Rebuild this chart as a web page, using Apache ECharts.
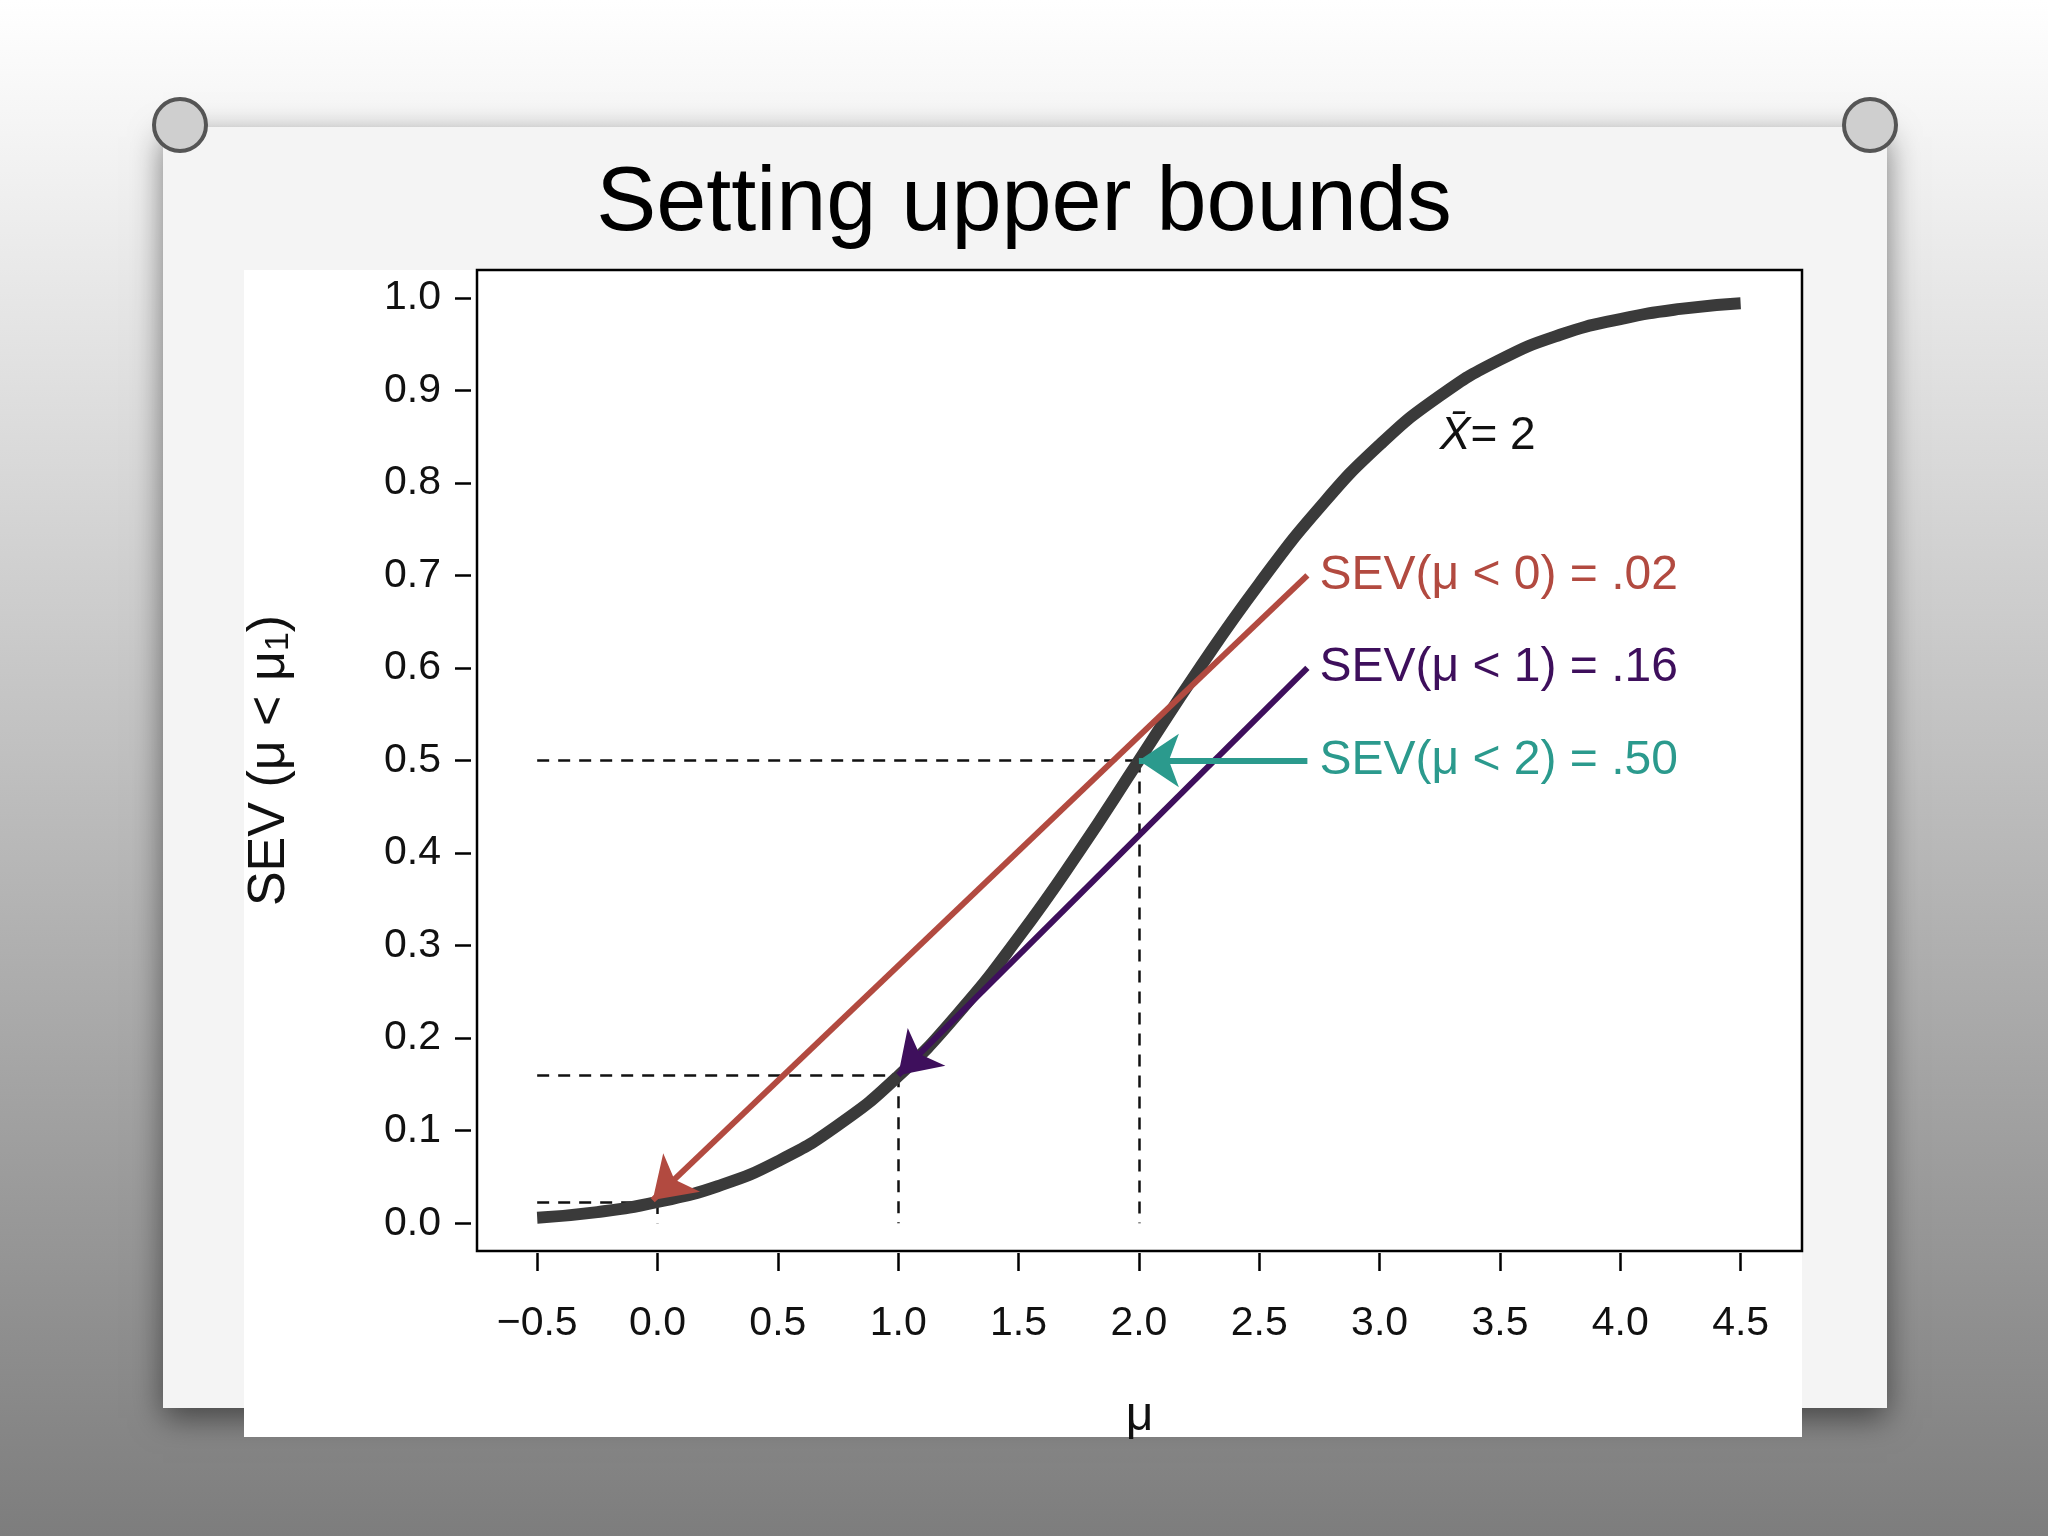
<!DOCTYPE html>
<html><head><meta charset="utf-8">
<script src="https://cdn.jsdelivr.net/npm/echarts@6/dist/echarts.min.js"></script>
<style>html,body{margin:0;padding:0}#c{width:2048px;height:1536px}</style>
</head><body><div id="c"></div>
<script>
// Curve values
const muValues = [-0.5,-0.25,0,0.25,0.5,0.75,1,1.25,1.5,1.75,2,2.25,2.5,2.75,3,3.25,3.5,3.75,4,4.25,4.5];
const sevValues = [0.006,0.012,0.023,0.040,0.067,0.106,0.159,0.227,0.309,0.401,0.5,0.599,0.691,0.773,0.841,0.894,0.933,0.960,0.977,0.988,0.994];
const xTicks = [-0.5,0,0.5,1,1.5,2,2.5,3,3.5,4,4.5];
const yTicks = [0,0.1,0.2,0.3,0.4,0.5,0.6,0.7,0.8,0.9,1.0];
const arrows = [
  {from:[2.7,0.70], to:[-0.02,0.025], color:'#b24a40', label:'SEV(μ < 0) = .02'},
  {from:[2.7,0.60], to:[1.0,0.16], color:'#3e0f5c', label:'SEV(μ < 1) = .16'},
  {from:[2.7,0.50], to:[2.0,0.50], color:'#2b9a8d', label:'SEV(μ < 2) = .50'}
];
const dashed = [
  [[-0.5,0.5],[2,0.5]],[[2,0.5],[2,0]],
  [[-0.5,0.16],[1,0.16]],[[1,0.16],[1,0]],
  [[-0.5,0.023],[0,0.023]],[[0,0.023],[0,0]]
];
const chart = echarts.init(document.getElementById('c'));
const font = 'Liberation Sans, Arial, sans-serif';
chart.setOption({
  animation:false,
  graphic:[
    {type:'rect',z:-10,shape:{x:0,y:0,width:2048,height:1536},style:{fill:new echarts.graphic.LinearGradient(0,0,0,1,[{offset:0,color:'#ffffff'},{offset:0.3,color:'#d9d9d9'},{offset:1,color:'#7d7d7d'}])}},
    {type:'rect',z:-9,shape:{x:163,y:127,width:1724,height:1281},style:{fill:'#f4f4f4',shadowBlur:30,shadowColor:'rgba(0,0,0,0.5)',shadowOffsetY:10}},
    {type:'rect',z:-8,shape:{x:244,y:270,width:1558,height:1167},style:{fill:'#ffffff'}},
    {type:'circle',z:-7,shape:{cx:180,cy:125,r:26},style:{fill:'#cfcfcf',stroke:'#555',lineWidth:4}},
    {type:'circle',z:-7,shape:{cx:1870,cy:125,r:26},style:{fill:'#cfcfcf',stroke:'#555',lineWidth:4}},
    {type:'text',left:'center',top:160,style:{text:'Setting upper bounds',font:'90px '+font,fill:'#000',x:1023,textAlign:'center'}}
  ],
  grid:{left:477,right:246,top:270,bottom:285,show:true,borderColor:'#000',borderWidth:2.5,backgroundColor:'transparent'},
  xAxis:{type:'value',min:-0.75,max:4.755,offset:2,
    axisLine:{show:false,onZero:false},splitLine:{show:false},
    axisTick:{show:true,length:18,lineStyle:{color:'#000',width:2.5},customValues:xTicks},
    axisLabel:{customValues:xTicks,fontSize:41,fontFamily:font,color:'#111',margin:50,formatter:v=>(v<0?'−':'')+Math.abs(v).toFixed(1)},
    name:'μ',nameLocation:'middle',nameGap:140,nameTextStyle:{fontSize:48,fontFamily:font,color:'#111'}},
  yAxis:{type:'value',min:-0.03,max:1.03,offset:6,
    axisLine:{show:false,onZero:false},splitLine:{show:false},
    axisTick:{show:true,length:16,lineStyle:{color:'#000',width:2.5},customValues:yTicks},
    axisLabel:{customValues:yTicks,fontSize:41,fontFamily:font,color:'#111',margin:30,formatter:v=>v.toFixed(1)},
    name:'{a|SEV (μ < μ}{s|1}{a|)}',nameLocation:'middle',nameGap:175,
    nameTextStyle:{rich:{a:{fontSize:52,fontFamily:font,color:'#111'},s:{fontSize:34,fontFamily:font,color:'#111',verticalAlign:'bottom',padding:[16,0,0,0]}}}},
  series:[
    {type:'lines',coordinateSystem:'cartesian2d',z:2,
     data:dashed.map(c=>({coords:c})),lineStyle:{color:'#111',width:2.5,type:[12,9],opacity:1}},
    {type:'line',data:muValues.map((m,i)=>[m,sevValues[i]]),smooth:true,showSymbol:false,z:3,
     lineStyle:{color:'#3a3a3a',width:12}},
    ...arrows.map(a=>({type:'lines',coordinateSystem:'cartesian2d',z:4,symbol:['none','arrow'],symbolSize:[26,40],
      data:[{coords:[a.from,a.to]}],lineStyle:{color:a.color,width:6,opacity:1}})),
    {type:'scatter',symbolSize:0,z:5,itemStyle:{opacity:1},data:arrows.map(a=>({value:[a.from[0]+0.05,a.from[1]],
      label:{show:true,position:'right',distance:0,formatter:a.label,color:a.color,opacity:1,fontSize:48,fontFamily:font}}))},
    {type:'scatter',symbolSize:0,z:5,itemStyle:{opacity:1},data:[{value:[3.25,0.85],label:{show:true,position:'right',distance:0,
      formatter:'{i|X̄}{t|= 2}',rich:{i:{fontSize:46,fontStyle:'italic',fontFamily:font,color:'#111'},t:{fontSize:46,fontFamily:font,color:'#111'}}}}]}
  ]
});
</script></body></html>
